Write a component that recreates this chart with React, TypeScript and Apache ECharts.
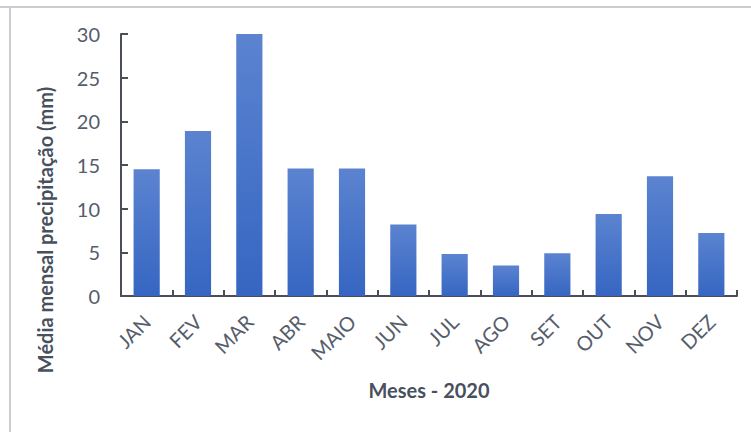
import React, { useEffect, useRef } from "react";
import * as echarts from "echarts";

const months = ["JAN", "FEV", "MAR", "ABR", "MAIO", "JUN", "JUL", "AGO", "SET", "OUT", "NOV", "DEZ"];
const precip = [14.5, 18.9, 30.0, 14.6, 14.6, 8.2, 4.8, 3.5, 4.9, 9.4, 13.7, 7.2];
const yTicks = [0, 5, 10, 15, 20, 25, 30];
const xTitle = "Meses - 2020";
const yTitle = "Média mensal precipitação (mm)";

export default function App() {
  const ref = useRef<HTMLDivElement>(null);
  useEffect(() => {
    if (!ref.current) return;
    const chart = echarts.init(ref.current, undefined, { renderer: "svg" });
    const textColor = "#555d6b";
    const titleColor = "#48505e";
    const font = "Lato";
    chart.setOption({
      animation: false,
      backgroundColor: "#ffffff",
      textStyle: { fontFamily: font },
      grid: { left: 121, right: 14, top: 34, bottom: 136, containLabel: false },
      graphic: [
        { type: "line", shape: { x1: 0, y1: 7, x2: 751, y2: 7 }, style: { stroke: "#c9cdd2", lineWidth: 2 } },
        { type: "line", shape: { x1: 10, y1: 7, x2: 10, y2: 432 }, style: { stroke: "#c9cdd2", lineWidth: 2 } },
        {
          type: "text",
          x: 45,
          y: 230,
          rotation: Math.PI / 2,
          style: {
            text: yTitle,
            font: `bold 20px ${font}`,
            fill: titleColor,
            textAlign: "center",
            textVerticalAlign: "middle",
          },
        },
      ],
      xAxis: {
        type: "category",
        data: months,
        name: xTitle,
        nameLocation: "middle",
        nameGap: 84,
        nameTextStyle: { fontSize: 20, fontWeight: "bold", color: titleColor, fontFamily: font },
        axisLine: { lineStyle: { color: "#4a4f57", width: 2 } },
        axisTick: { show: true, inside: true, length: 6, alignWithLabel: false, lineStyle: { color: "#4a4f57", width: 2 } },
        axisLabel: { rotate: 45, fontSize: 20, color: textColor, margin: 22, fontFamily: font },
      },
      yAxis: {
        type: "value",
        min: yTicks[0],
        max: yTicks[yTicks.length - 1],
        interval: 5,
        axisLine: { show: true, lineStyle: { color: "#4a4f57", width: 2 } },
        axisTick: { show: true, inside: true, length: 7, lineStyle: { color: "#4a4f57", width: 2 } },
        splitLine: { show: false },
        axisLabel: { fontSize: 20, color: textColor, margin: 21, fontFamily: font },
      },
      series: [
        {
          type: "bar",
          data: precip,
          barWidth: "51%",
          itemStyle: {
            color: new echarts.graphic.LinearGradient(0, 0, 0, 1, [
              { offset: 0, color: "#5b83d0" },
              { offset: 1, color: "#3666c2" },
            ]),
          },
        },
      ],
    });
    return () => chart.dispose();
  }, []);
  return <div ref={ref} style={{ position: "fixed", left: 0, top: 0, width: 751, height: 432 }} />;
}
